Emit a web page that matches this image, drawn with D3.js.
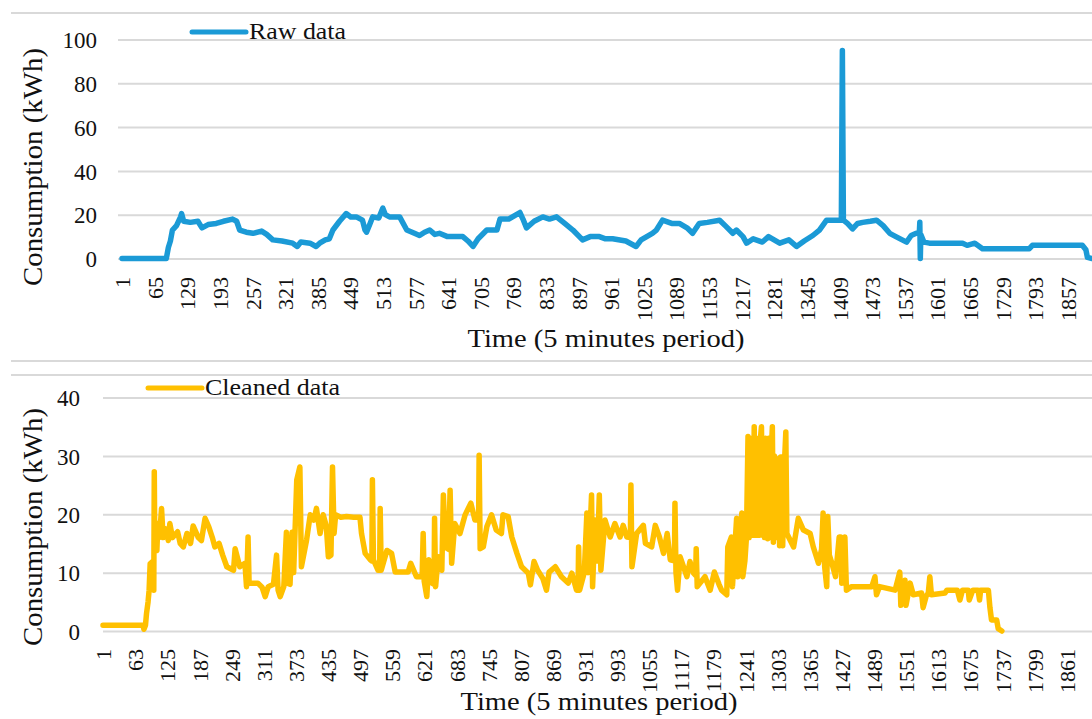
<!DOCTYPE html>
<html>
<head>
<meta charset="utf-8">
<script src="https://cdn.jsdelivr.net/npm/d3@7"></script>
<style>
  body { margin: 0; background: #fff; }
  svg { display: block; font-family: "Liberation Serif", "DejaVu Serif", serif; }
</style>
</head>
<body>
<div class="container"></div>
<script>
// raw series: period index and kWh
var rawIdx = [1, 88, 92, 96, 100, 108, 116, 118, 122, 135, 150, 158, 170, 186, 200, 218, 226, 232, 245, 258,
  275, 285, 297, 315, 336, 345, 352, 370, 382, 389, 400, 408, 415, 428, 441, 450, 461, 473, 478, 481,
  488, 493, 505, 513, 518, 526, 546, 560, 575, 585, 595, 605, 615, 624, 640, 670, 680, 690, 700, 717,
  737, 743, 760, 782, 788, 795, 810, 827, 840, 854, 870, 886, 905, 920, 938, 950, 964, 990, 1010, 1020,
  1042, 1050, 1062, 1080, 1095, 1110, 1121, 1134, 1150, 1174, 1185, 1200, 1207, 1220, 1227, 1240, 1258, 1270, 1292, 1310,
  1325, 1340, 1357, 1370, 1384, 1413, 1415, 1417, 1425, 1435, 1445, 1455, 1470, 1482, 1495, 1508, 1520, 1541, 1550, 1560,
  1566, 1567, 1568, 1569, 1575, 1586, 1620, 1651, 1660, 1675, 1690, 1720, 1782, 1788, 1886, 1893, 1896, 1905];
var rawVal = [0, 0, 5, 8, 13, 15, 19, 20.5, 17, 16.5, 17, 14, 15.5, 16, 17, 18, 17, 13, 12, 11.5,
  12.5, 11, 8.5, 8, 7, 5.5, 7.5, 7, 5.5, 7, 8.5, 9, 13, 17, 20.5, 19, 19, 17.5, 13, 12,
  16, 19, 18.5, 23, 20, 19, 19, 13, 11.5, 10.5, 12, 13, 11, 11.5, 10, 10, 8, 5.5, 9, 13,
  13, 18, 18, 21, 18, 14, 17, 19, 18, 19, 16, 13, 8.5, 10, 10, 9, 9, 8, 5.5, 8.5,
  11.5, 13, 17.5, 16, 16, 14, 11.5, 16, 16.5, 17.5, 15, 11.5, 13, 10, 7, 9, 7.5, 10, 7, 8.5,
  5.5, 8, 10.5, 13, 17.5, 17.5, 95, 17.5, 16, 13.5, 16, 16.5, 17, 17.5, 15, 11.5, 10, 7.5, 10.5, 11.5,
  11.5, 16.5, 0, 11, 7.5, 7, 7, 7, 6, 7, 4.5, 4.5, 4.5, 6, 6, 4, 0.5, 0];

// cleaned series
var cleanIdx = [1, 78, 80, 83, 85, 88, 90, 92, 98, 99, 100, 101, 105, 107, 110, 114, 117, 122, 127, 130,
  135, 145, 150, 156, 163, 170, 175, 185, 191, 198, 205, 212, 217, 225, 232, 240, 253, 256, 265, 275,
  278, 281, 283, 300, 308, 314, 320, 330, 336, 339, 343, 350, 355, 357, 362, 366, 369, 375, 381, 384,
  394, 401, 408, 413, 420, 426, 432, 436, 441, 444, 447, 450, 460, 471, 485, 497, 500, 507, 517, 520,
  521, 523, 532, 535, 536, 538, 549, 558, 565, 590, 595, 606, 617, 619, 621, 626, 630, 636, 640, 641,
  643, 648, 655, 658, 662, 668, 671, 674, 680, 690, 700, 711, 719, 726, 727, 729, 735, 742, 751, 760,
  770, 773, 783, 790, 800, 809, 822, 826, 833, 840, 850, 857, 862, 874, 886, 899, 906, 915, 918, 919,
  921, 930, 935, 938, 944, 946, 951, 955, 959, 962, 970, 980, 989, 999, 1005, 1012, 1019, 1020, 1022, 1031,
  1044, 1048, 1060, 1067, 1075, 1083, 1090, 1096, 1104, 1105, 1107, 1110, 1115, 1128, 1134, 1141, 1145, 1146, 1148, 1163,
  1173, 1181, 1190, 1195, 1205, 1207, 1214, 1216, 1224, 1226, 1234, 1236, 1240, 1243, 1246, 1248, 1250, 1252, 1254, 1256,
  1258, 1260, 1262, 1264, 1266, 1268, 1270, 1272, 1274, 1276, 1278, 1280, 1282, 1284, 1286, 1288, 1290, 1293, 1295, 1297,
  1300, 1302, 1305, 1307, 1309, 1311, 1313, 1316, 1319, 1321, 1334, 1343, 1353, 1366, 1372, 1382, 1388, 1391, 1394, 1398,
  1400, 1403, 1408, 1415, 1422, 1425, 1427, 1430, 1433, 1436, 1446, 1485, 1491, 1494, 1500, 1530, 1539, 1541, 1545, 1549,
  1551, 1559, 1565, 1581, 1584, 1590, 1594, 1597, 1600, 1626, 1630, 1650, 1655, 1660, 1671, 1673, 1680, 1690, 1693, 1695,
  1710, 1713, 1716, 1726, 1729, 1736];
var cleanVal = [1, 1, 0.3, 1, 3, 5, 7, 11.5, 12, 7, 27.3, 14, 13.8, 18.4, 16, 21, 16, 17.5, 15.5, 18.4,
  16, 17, 15, 14.4, 16.7, 15, 18, 16, 15.5, 19.3, 17.9, 16, 14.4, 15, 13, 11, 10.4, 14.1, 11, 11.6,
  7.6, 16.1, 8.2, 8.2, 7.5, 5.9, 7.6, 8, 13, 7, 5.9, 7.6, 16.9, 8.2, 8, 16.9, 10, 25.9, 28.1, 11,
  15.6, 19.9, 19, 21, 16.7, 19.9, 18, 12.7, 13, 28.1, 16.7, 19.9, 19.5, 19.6, 19.5, 19.5, 16.7, 13.3, 12.2, 12,
  25.9, 12.2, 10.4, 10.4, 21, 10.4, 13.8, 13.3, 10.1, 10.1, 11.6, 9.3, 9.3, 16.7, 8.5, 5.9, 12.2, 8.2, 8, 19.3,
  7.6, 12.7, 10.4, 23.3, 14.4, 14, 24.1, 11.6, 18.4, 16.7, 19.9, 21.9, 19, 19, 30.1, 14.1, 14.4, 17.9, 19.9, 17.3,
  16.7, 19.9, 19.6, 16.1, 13.3, 11, 9.9, 7.9, 11.9, 10.4, 9, 7, 10.1, 11, 9.3, 8.2, 9.9, 7, 7, 14.4,
  7, 10, 20.2, 10, 23.3, 7.6, 19, 12, 23.3, 10.4, 19, 16.1, 18.4, 16.1, 18.1, 16.1, 16, 25, 11, 16.7,
  18.1, 15, 14.4, 18.1, 16.1, 13.3, 16.7, 12.2, 12, 21.9, 10, 7, 12.7, 9.3, 11.9, 9.9, 9.5, 14.1, 7.6, 9.3,
  7, 10.1, 8, 7, 6.2, 14.4, 16.1, 7.6, 19.3, 9.3, 20.2, 9.3, 12, 16, 33.3, 16, 33, 16.4, 33, 16.4,
  35, 16.4, 33, 16.4, 30, 16.4, 33, 35, 16.4, 33, 16, 33, 32.5, 15.8, 33, 16, 28, 35, 15.2, 30,
  25, 16, 29.5, 14.6, 29.8, 29.8, 14.6, 28, 34.1, 16.7, 14.4, 19.3, 17.3, 16.7, 14.4, 11.6, 14, 20.2, 11, 7.6,
  19.6, 13, 11.6, 9.3, 16.1, 16.1, 8.2, 10, 16.1, 7, 7.6, 7.6, 9.3, 6.2, 7.6, 7, 10.1, 4.4, 7, 8.7,
  4.4, 8.2, 6.2, 6.5, 4, 6, 6.5, 9.3, 6.2, 6.5, 7, 7, 5.3, 7, 7, 5.3, 7, 7, 5.3, 7,
  7, 4, 1.9, 1.9, 0.4, 0];

// tick labels
var topTicks = [1, 65, 129, 193, 257, 321, 385, 449, 513, 577, 641, 705, 769, 833, 897, 961, 1025, 1089, 1153, 1217,
  1281, 1345, 1409, 1473, 1537, 1601, 1665, 1729, 1793, 1857];
var bottomTicks = [1, 63, 125, 187, 249, 311, 373, 435, 497, 559, 621, 683, 745, 807, 869, 931, 993, 1055, 1117, 1179,
  1241, 1303, 1365, 1427, 1489, 1551, 1613, 1675, 1737, 1799, 1861];
var topY = [0, 20, 40, 60, 80, 100];
var bottomY = [0, 10, 20, 30, 40];

var W = 1092, H = 719;
var svg = d3.select('.container').append('svg').attr('width', W).attr('height', H);

// chart area borders
[13, 361, 375].forEach(function(yy){
  svg.append('line').attr('x1', 11).attr('x2', W).attr('y1', yy).attr('y2', yy)
     .attr('stroke', '#d9d9d9').attr('stroke-width', 2);
});

function drawPanel(opt){
  var x = d3.scaleLinear().domain([1, opt.n]).range([opt.x0, W]);
  var y = d3.scaleLinear().domain(opt.yDomain).range(opt.yRange);
  var g = svg.append('g');

  // grid lines + y labels
  var yAxis = d3.axisLeft(y).tickValues(opt.yTicks).tickSize(-(W - opt.gridX)).tickPadding(0);
  var ya = g.append('g').attr('transform', 'translate(' + opt.gridX + ',0)').call(yAxis);
  ya.select('.domain').remove();
  ya.selectAll('.tick line').attr('stroke', '#d9d9d9').attr('stroke-width', 2);
  ya.selectAll('.tick text').attr('x', opt.yLabelX - opt.gridX).attr('dy', '0.36em')
    .attr('font-size', 23).attr('fill', '#111').attr('font-family', 'Liberation Serif');

  // x labels, rotated
  var xAxis = d3.axisBottom(x).tickValues(opt.xTicks).tickSize(0).tickFormat(d3.format('d'));
  var xa = g.append('g').attr('transform', 'translate(0,' + opt.xLabelY + ')').call(xAxis);
  xa.select('.domain').remove();
  xa.selectAll('.tick text').attr('transform', 'rotate(-90)').attr('text-anchor', 'end')
    .attr('x', 0).attr('y', 0).attr('dy', '0.35em')
    .attr('font-size', 22).attr('fill', '#111').attr('font-family', 'Liberation Serif');

  // series line
  var pts = opt.idx.map(function(d, i){ return [d, opt.val[i]]; });
  var line = d3.line().x(function(d){ return x(d[0]); }).y(function(d){ return y(d[1]); });
  g.append('path').datum(pts).attr('d', line).attr('fill', 'none')
    .attr('stroke', opt.color).attr('stroke-width', opt.sw)
    .attr('stroke-linejoin', 'round').attr('stroke-linecap', 'round');

  // legend
  g.append('line').attr('x1', opt.legX).attr('x2', opt.legX + 54)
    .attr('y1', opt.legY).attr('y2', opt.legY)
    .attr('stroke', opt.color).attr('stroke-width', 5).attr('stroke-linecap', 'round');
  g.append('text').attr('x', opt.legX + 57).attr('y', opt.legY + 7)
    .attr('font-size', 23).attr('fill', '#111')
    .attr('textLength', opt.legLen).attr('lengthAdjust', 'spacingAndGlyphs')
    .text(opt.name);

  // axis titles
  g.append('text').attr('x', opt.xTitleX).attr('y', opt.xTitleY).attr('text-anchor', 'middle')
    .attr('font-size', 26).attr('fill', '#111')
    .attr('textLength', 277).attr('lengthAdjust', 'spacingAndGlyphs')
    .text('Time (5 minutes period)');
  g.append('text').attr('transform', 'translate(42,' + opt.yTitleY + ') rotate(-90)')
    .attr('text-anchor', 'middle').attr('font-size', 28).attr('fill', '#111')
    .attr('textLength', 238).attr('lengthAdjust', 'spacingAndGlyphs')
    .text('Consumption (kWh)');
}

drawPanel({
  n: 1905, x0: 122, gridX: 118, yDomain: [0, 100], yRange: [258.5, 39.5], yTicks: topY,
  yLabelX: 97, xTicks: topTicks, xLabelY: 277, idx: rawIdx, val: rawVal, color: '#1b9ad6', sw: 5.5,
  legX: 192, legY: 32, legLen: 97, name: 'Raw data',
  xTitleX: 606, xTitleY: 347, yTitleY: 167
});

drawPanel({
  n: 1910, x0: 103, gridX: 103, yDomain: [0, 40], yRange: [631, 397.5], yTicks: bottomY,
  yLabelX: 80, xTicks: bottomTicks, xLabelY: 649, idx: cleanIdx, val: cleanVal, color: '#ffc000', sw: 5.5,
  legX: 148, legY: 388, legLen: 135, name: 'Cleaned data',
  xTitleX: 599, xTitleY: 710, yTitleY: 527
});
</script>
</body>
</html>
